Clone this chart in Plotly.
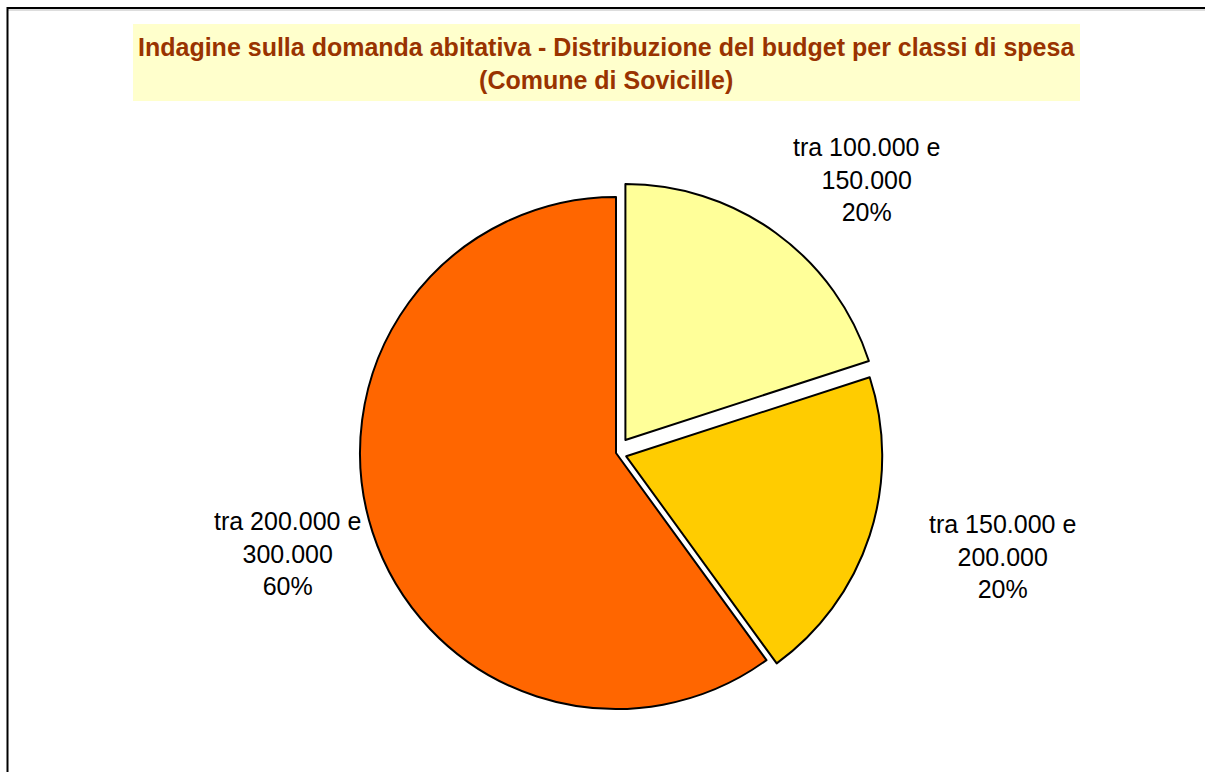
import plotly.graph_objects as go

# Budget classes (euro) and share of respondents
classi = ["tra 100.000 e 150.000", "tra 150.000 e 200.000", "tra 200.000 e 300.000"]
valori = [20, 20, 60]
colori = ["#FFFF99", "#FFCC00", "#FF6600"]
distacco = [0.0625, 0.042, 0.0]

W, H = 1205, 772


def px(x):
    return x / W


def py(y):
    return 1 - y / H


# label anchor points (pixel centres of each text block)
pos_etichette = [(866, 180), (1002, 556), (287, 553)]

totale = sum(valori)
annotazioni = []
for nome, v, (lx, ly) in zip(classi, valori, pos_etichette):
    testa, coda = nome.split(" e ")
    testo = f"{testa} e<br>{coda}<br>{round(100 * v / totale)}%"
    annotazioni.append(dict(
        x=px(lx), y=py(ly), xref="paper", yref="paper", text=testo,
        showarrow=False, xanchor="center", yanchor="middle", align="center",
        font=dict(family="Liberation Sans, Arial, sans-serif", size=25, color="#000000"),
    ))

# chart title
annotazioni.append(dict(
    x=px(606), y=py(64), xref="paper", yref="paper",
    text="<b>Indagine sulla domanda abitativa - Distribuzione del budget per classi di spesa</b><br><b>(Comune di Sovicille)</b>",
    showarrow=False, xanchor="center", yanchor="middle", align="center",
    font=dict(family="Liberation Sans, Arial, sans-serif", size=25, color="#993300"),
))

cx, cy, box = 616, 453, 544
fig = go.Figure(go.Pie(
    labels=classi, values=valori, sort=False, direction="clockwise", rotation=0,
    pull=distacco, textinfo="none", hoverinfo="label+percent",
    marker=dict(colors=colori, line=dict(color="#000000", width=2)),
    domain=dict(x=[px(cx - box / 2), px(cx + box / 2)], y=[py(cy + box / 2), py(cy - box / 2)]),
    showlegend=False,
))

forme = [
    # title background
    dict(type="rect", xref="paper", yref="paper", x0=px(133), x1=px(1080), y0=py(101), y1=py(24),
         fillcolor="#FFFFCC", line=dict(width=0), layer="below"),
    # chart area frame
    dict(type="line", xref="paper", yref="paper", x0=px(7), x1=px(1205), y0=py(8), y1=py(8),
         line=dict(color="#000000", width=2)),
    dict(type="line", xref="paper", yref="paper", x0=px(7), x1=px(1205), y0=py(10), y1=py(10),
         line=dict(color="#BBBBBB", width=1)),
    dict(type="line", xref="paper", yref="paper", x0=px(7.5), x1=px(7.5), y0=py(7), y1=py(772),
         line=dict(color="#000000", width=2)),
]

fig.update_layout(
    width=W, height=H, margin=dict(l=0, r=0, t=0, b=0),
    paper_bgcolor="#FFFFFF", plot_bgcolor="#FFFFFF",
    annotations=annotazioni, shapes=forme,
)

fig.write_html("out.html")
